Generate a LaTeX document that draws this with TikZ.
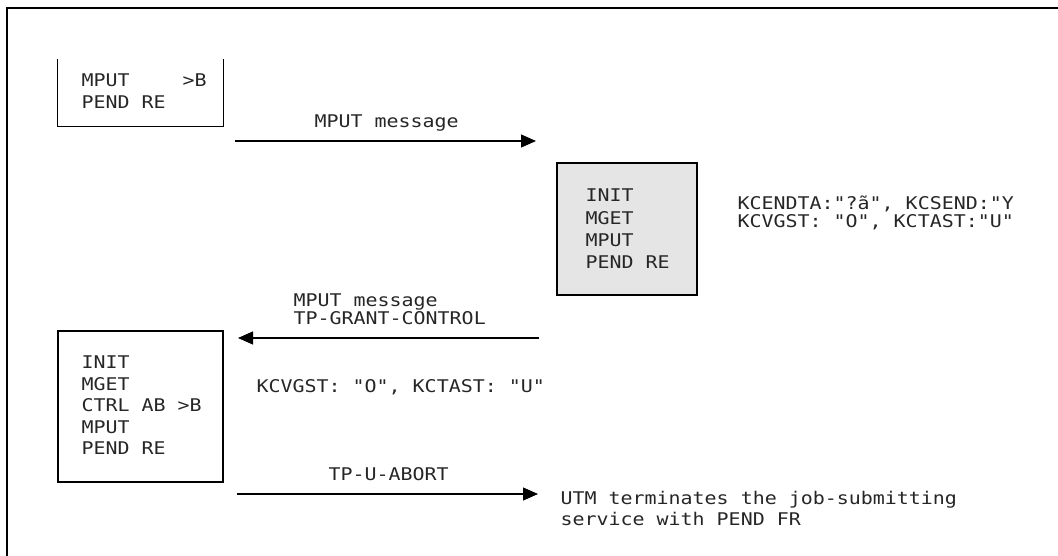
\documentclass[tikz,border=0pt]{standalone}
\usepackage{fontspec}
\newfontfamily\utmmono[FakeStretch=1.14,Ligatures=TeXOff]{DejaVu Sans Mono}
\usetikzlibrary{arrows.meta}

\begin{document}
\begin{tikzpicture}[x=1pt,y=-1pt,line width=1.2pt,
  txt/.style={anchor=north west,inner sep=0pt,align=left,text=black!85,
    font=\utmmono\fontsize{17.5}{21.5}\selectfont},
  txtnarrow/.style={txt,font=\utmmono\fontsize{17.5}{17.5}\selectfont},
  frame/.style={inner sep=0pt,minimum width=165pt},
  msg/.style={-{Triangle[length=15pt,width=13pt]}}]
  \useasboundingbox (0,0) rectangle (1058,556);
  % page frame: top and left rule only
  \draw[line width=1.5pt] (1058,8) -- (7,8) -- (7,556);
  % boxes
  \node[frame,minimum height=66pt] (box1) at (140.5,93) {};
  \draw (box1.north west) -- (box1.south west) -- (box1.south east) -- (box1.north east);
  \node[frame,minimum width=140pt,minimum height=132pt,draw,fill=gray!20] (box2) at (627,229) {};
  \node[frame,minimum height=151pt,draw] (box3) at (140.5,406.5) {};
  % box texts
  \node[txt] (prog1) at (81,73.6) {MPUT\ \ \ \ \kern5pt>B\\PEND RE};
  \node[txt,font=\utmmono\fontsize{17.5}{22.3}\selectfont] (prog2) at (585,188.6) {INIT\\MGET\\MPUT\\PEND RE};
  \node[txt] (prog3) at (81,355.6) {INIT\\MGET\\CTRL AB >B\\MPUT\\PEND RE};
  \node[txtnarrow] (fields2) at (737,195.6) {KCENDTA:"?ã", KCSEND:"Y\\KCVGST: "O", KCTAST:"U"};
  \node[txt] (fields3) at (256,378.6) {KCVGST: "O", KCTAST: "U"};
  % messages
  \coordinate (m1a) at (235,141);
  \coordinate (m1b) at (536,141);
  \coordinate (m2a) at (539,338);
  \coordinate (m2b) at (238,338);
  \coordinate (m3a) at (237,494);
  \coordinate (m3b) at (538,494);
  \draw[msg] (m1a) -- (m1b);
  \draw[msg] (m2a) -- (m2b);
  \draw[msg] (m3a) -- (m3b);
  \node[txt] (lbl1) at (314,114.6) {MPUT message};
  \node[txtnarrow] (lbl2) at (293,293.6) {MPUT message\\TP-GRANT-CONTROL};
  \node[txt] (lbl3) at (328,466.6) {TP-U-ABORT};
  \node[txt,font=\utmmono\fontsize{17.5}{21}\selectfont] (result) at (560,491) {UTM terminates the job-submitting\\service with PEND FR};
\end{tikzpicture}
\end{document}
